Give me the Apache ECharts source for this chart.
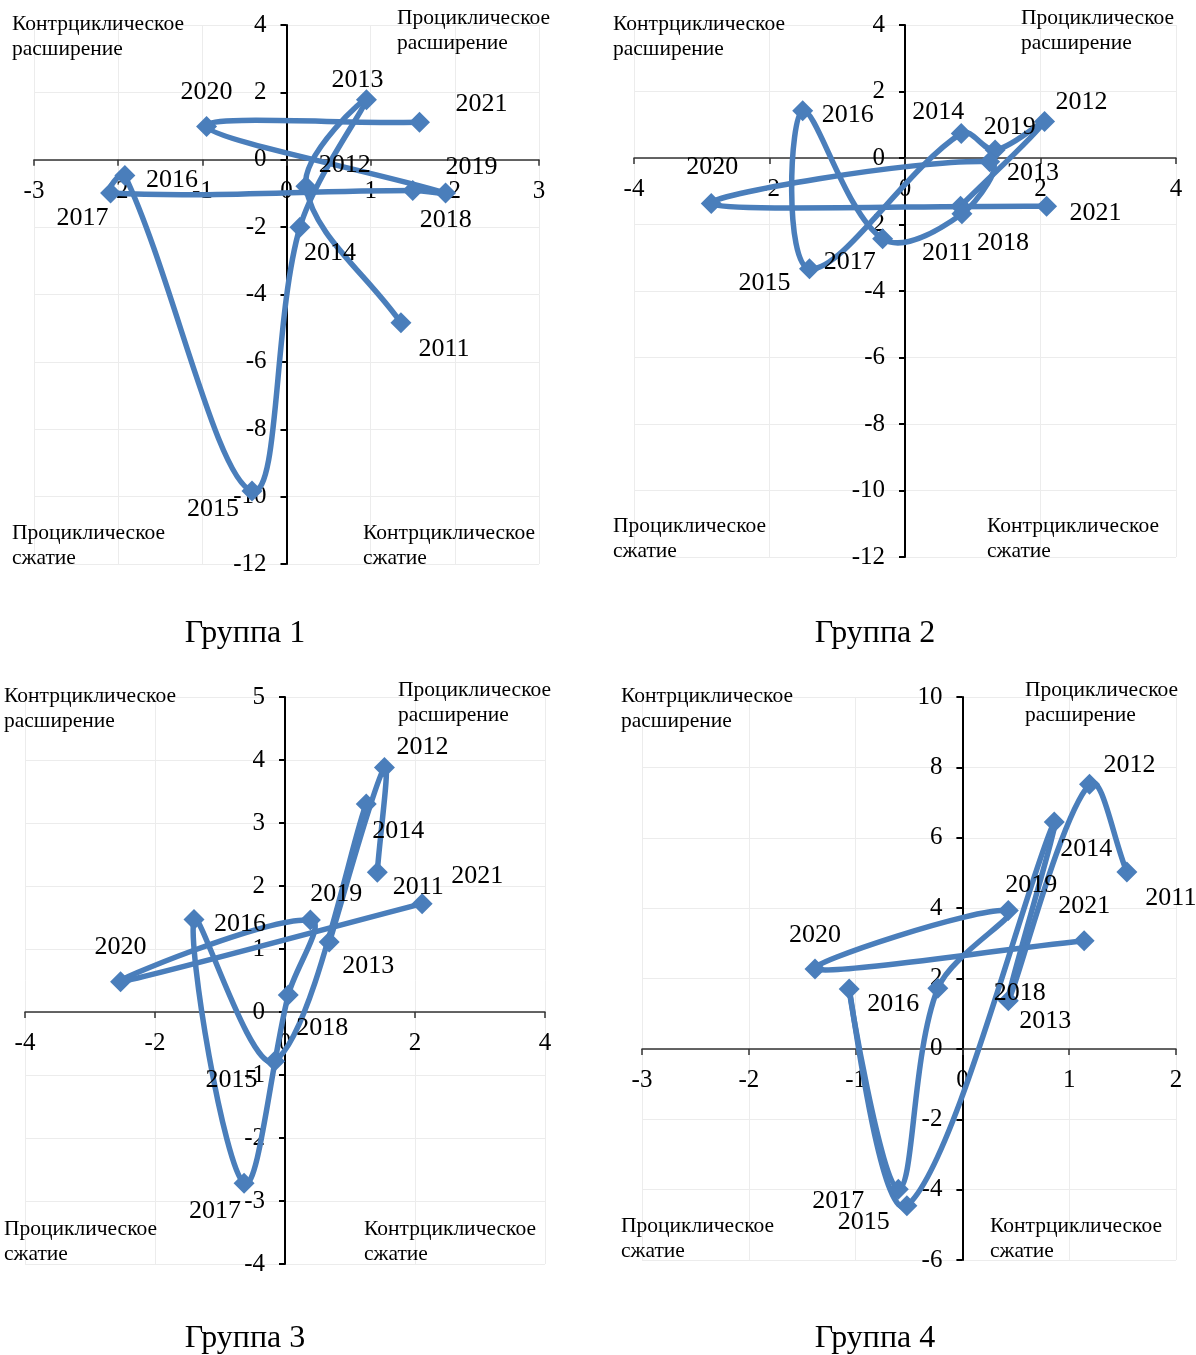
<!DOCTYPE html>
<html>
<head>
<meta charset="utf-8">
<script src="https://cdn.jsdelivr.net/npm/echarts@6/dist/echarts.min.js"></script>
<style>
  html, body { margin: 0; padding: 0; background: #fff; }
  #chart { width: 1196px; height: 1355px; }
</style>
</head>
<body>
<div id="chart"></div>
<script>
// годы (подписи точек)
const years = ['2011', '2012', '2013', '2014', '2015', '2016', '2017', '2018', '2019', '2020', '2021'];

// Группа 1
const g1X = [1.36, 0.23, 0.95, 0.16, -0.41, -1.92, -2.09, 1.50, 1.89, -0.95, 1.58];
const g1Y = [-4.84, -0.79, 1.78, -2.00, -9.83, -0.47, -0.99, -0.91, -0.99, 0.99, 1.11];
// Группа 2
const g2X = [0.82, 2.06, 1.33, 0.83, -1.41, -1.51, -0.33, 0.84, 1.25, -2.86, 2.09];
const g2Y = [-1.45, 1.10, 0.24, 0.74, -3.33, 1.42, -2.43, -1.68, -0.11, -1.37, -1.45];
// Группа 3
const g3X = [1.42, 1.53, 0.68, 1.25, -0.16, -1.40, -0.63, 0.05, 0.39, -2.53, 2.11];
const g3Y = [2.22, 3.88, 1.11, 3.30, -0.78, 1.47, -2.72, 0.27, 1.46, 0.48, 1.72];
// Группа 4
const g4X = [1.54, 1.19, 0.43, 0.86, -0.52, -1.06, -0.60, -0.23, 0.43, -1.38, 1.14];
const g4Y = [5.03, 7.52, 1.37, 6.45, -4.46, 1.70, -3.99, 1.72, 3.93, 2.27, 3.07];

// сдвиги подписей годов (px), как в оригинале
const g1Lab = [[43, 26], [39, -21], [-9, -20], [30, 26], [-39, 18], [47, 5], [-28, 25], [33, 30], [26, -26], [0, -34], [62, -18]];
const g2Lab = [[-13, 47], [37, -19], [38, 23], [-23, -21], [-45, 14], [45, 4], [-33, 23], [41, 29], [20, -34], [1, -36], [49, 7]];
const g3Lab = [[41, 15], [38, -20], [39, 24], [32, 27], [-43, 19], [46, 5], [-29, 28], [34, 33], [26, -26], [0, -35], [55, -27]];
const g4Lab = [[44, 26], [40, -19], [37, 21], [32, 27], [-43, 16], [44, 15], [-60, 12], [82, 5], [23, -25], [0, -34], [0, -35]];

const FONT = '"Liberation Serif", "Times New Roman", serif';
const BLUE = '#4a7ebb';
const SMOOTH = 0.36;

// области графиков
const grids = [
    { left: 34, top: 25, width: 505, height: 539 },
    { left: 634, top: 25, width: 542, height: 532 },
    { left: 25, top: 697, width: 520, height: 567 },
    { left: 642, top: 697, width: 534, height: 563 }
];
const xRanges = [[-3, 3, 1], [-4, 4, 2], [-4, 4, 2], [-3, 2, 1]];
const yRanges = [[-12, 4, 2], [-12, 4, 2], [-4, 5, 1], [-6, 10, 2]];

const chart = echarts.init(document.getElementById('chart'));

// ось X проходит через y = 0
function xAx(idx) {
    const r = xRanges[idx], yr = yRanges[idx];
    const shift = (0 - yr[0]) / (yr[1] - yr[0]) * grids[idx].height;
    return {
        type: 'value', gridIndex: idx, min: r[0], max: r[1], interval: r[2],
        position: 'bottom', offset: -shift,
        axisLine: { onZero: false, lineStyle: { color: '#333', width: 1.5 } },
        axisTick: { show: true, length: 6, lineStyle: { color: '#333', width: 1.5 } },
        axisLabel: { fontFamily: FONT, fontSize: 25, color: '#000', margin: 19 },
        splitLine: { show: true, lineStyle: { color: '#ececec', width: 1 } }
    };
}

// ось Y проходит через x = 0
function yAx(idx) {
    const r = yRanges[idx], xr = xRanges[idx];
    const shift = (0 - xr[0]) / (xr[1] - xr[0]) * grids[idx].width;
    return {
        type: 'value', gridIndex: idx, min: r[0], max: r[1], interval: r[2],
        position: 'left', offset: -shift,
        axisLine: { onZero: false, lineStyle: { color: '#000', width: 2 } },
        axisTick: { show: true, length: 6, lineStyle: { color: '#000', width: 2 } },
        axisLabel: { fontFamily: FONT, fontSize: 25, color: '#000', margin: 20 },
        splitLine: { show: true, lineStyle: { color: '#ececec', width: 1 } }
    };
}

// контрольные точки сглаживания (как в Excel, без обрезки)
function ctrl(prev, cur, next) {
    const vx = next[0] - prev[0], vy = next[1] - prev[1];
    const d0 = Math.hypot(cur[0] - prev[0], cur[1] - prev[1]);
    const d1 = Math.hypot(next[0] - cur[0], next[1] - cur[1]);
    const r = (d0 + d1) > 0 ? d1 / (d0 + d1) : 0.5;
    return {
        back: [cur[0] - vx * SMOOTH * (1 - r), cur[1] - vy * SMOOTH * (1 - r)],
        fwd: [cur[0] + vx * SMOOTH * r, cur[1] + vy * SMOOTH * r]
    };
}

// сглаженная линия по годам
function curveSeries(idx, xs, ys) {
    const n = xs.length;
    return {
        type: 'custom', xAxisIndex: idx, yAxisIndex: idx, z: 2,
        encode: { x: 0, y: 1 },
        data: xs.map(function (x, i) { return [x, ys[i]]; }),
        renderItem: function (params, api) {
            const i = params.dataIndex;
            if (i >= n - 1) return null;
            const p = function (j) {
                j = Math.max(0, Math.min(n - 1, j));
                return api.coord([xs[j], ys[j]]);
            };
            const a = p(i), b = p(i + 1);
            const ca = ctrl(i > 0 ? p(i - 1) : a, a, b);
            const cb = ctrl(a, b, i + 2 < n ? p(i + 2) : b);
            return {
                type: 'bezierCurve',
                shape: {
                    x1: a[0], y1: a[1], x2: b[0], y2: b[1],
                    cpx1: ca.fwd[0], cpy1: ca.fwd[1], cpx2: cb.back[0], cpy2: cb.back[1]
                },
                style: { stroke: BLUE, lineWidth: 5.5, fill: null, lineCap: 'round' }
            };
        }
    };
}

// маркеры и подписи годов
function pointSeries(idx, xs, ys, offs) {
    return {
        type: 'scatter', xAxisIndex: idx, yAxisIndex: idx, z: 3,
        symbol: 'diamond', symbolSize: 21,
        itemStyle: { color: BLUE, opacity: 1 },
        label: {
            show: true, position: 'inside', formatter: '{b}',
            fontFamily: FONT, fontSize: 26, color: '#000'
        },
        data: years.map(function (y, i) {
            return { name: y, value: [xs[i], ys[i]], label: { offset: offs[i] } };
        })
    };
}

// подписи квадрантов
function quad(x, y, text) {
    return {
        type: 'text', x: x, y: y, z: 10,
        style: { text: text, fontFamily: FONT, fontSize: 21.5, lineHeight: 25, fill: '#000', verticalAlign: 'top' }
    };
}

function caption(x, y, text) {
    return {
        type: 'text', x: x, y: y, z: 10,
        style: { text: text, fontFamily: FONT, fontSize: 32, fill: '#000', align: 'center', verticalAlign: 'middle' }
    };
}

const TL = 'Контрциклическое\nрасширение';
const TR = 'Проциклическое\nрасширение';
const BL = 'Проциклическое\nсжатие';
const BR = 'Контрциклическое\nсжатие';

const option = {
    animation: false,
    backgroundColor: '#fff',
    grid: grids,
    xAxis: [xAx(0), xAx(1), xAx(2), xAx(3)],
    yAxis: [yAx(0), yAx(1), yAx(2), yAx(3)],
    series: [
        curveSeries(0, g1X, g1Y), pointSeries(0, g1X, g1Y, g1Lab),
        curveSeries(1, g2X, g2Y), pointSeries(1, g2X, g2Y, g2Lab),
        curveSeries(2, g3X, g3Y), pointSeries(2, g3X, g3Y, g3Lab),
        curveSeries(3, g4X, g4Y), pointSeries(3, g4X, g4Y, g4Lab)
    ],
    graphic: [
        quad(12, 12, TL), quad(397, 6, TR), quad(12, 521, BL), quad(363, 521, BR),
        quad(613, 12, TL), quad(1021, 6, TR), quad(613, 514, BL), quad(987, 514, BR),
        quad(4, 684, TL), quad(398, 678, TR), quad(4, 1217, BL), quad(364, 1217, BR),
        quad(621, 684, TL), quad(1025, 678, TR), quad(621, 1214, BL), quad(990, 1214, BR),
        caption(245, 634, 'Группа 1'),
        caption(875, 634, 'Группа 2'),
        caption(245, 1339, 'Группа 3'),
        caption(875, 1339, 'Группа 4')
    ]
};

chart.setOption(option);
</script>
</body>
</html>
